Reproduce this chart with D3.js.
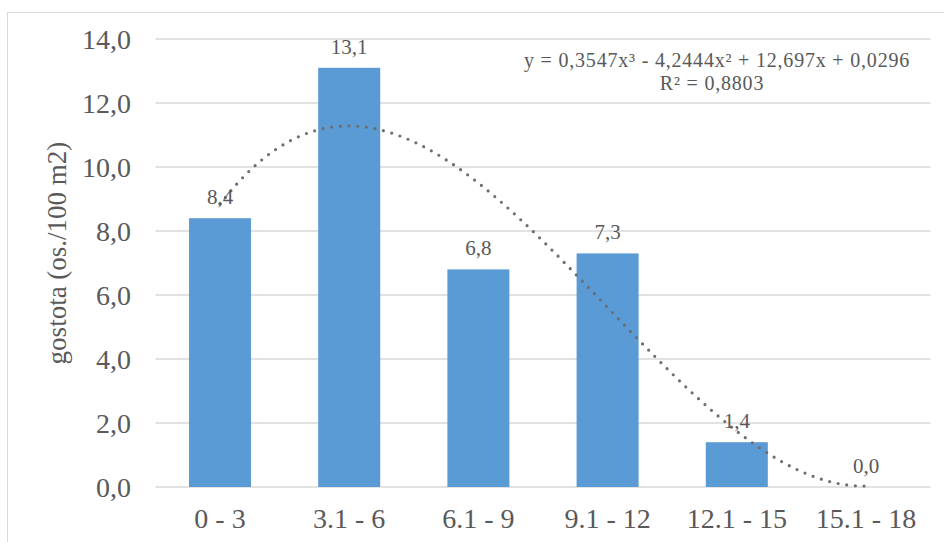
<!DOCTYPE html>
<html>
<head>
<meta charset="utf-8">
<script src="https://cdn.jsdelivr.net/npm/d3@7"></script>
<style>
  html, body { margin: 0; padding: 0; background: #fff; }
  svg { display: block; }
  text { font-family: "Liberation Serif", "Times New Roman", serif; fill: #595959; }
</style>
</head>
<body>
<script>
const categories = ["0 - 3", "3.1 - 6", "6.1 - 9", "9.1 - 12", "12.1 - 15", "15.1 - 18"];
const values = [8.4, 13.1, 6.8, 7.3, 1.4, 0.0];
const valueLabels = ["8,4", "13,1", "6,8", "7,3", "1,4", "0,0"];
const yTicks = [0, 2, 4, 6, 8, 10, 12, 14];
const yTickLabels = ["0,0", "2,0", "4,0", "6,0", "8,0", "10,0", "12,0", "14,0"];
const trendCoeffs = [0.3547, -4.2444, 12.697, 0.0296]; // x^3, x^2, x, const
const equationLine1 = "y = 0,3547x³ - 4,2444x² + 12,697x + 0,0296";
const equationLine2 = "R² = 0,8803";
const yTitle = "gostota (os./100 m2)";

const W = 944, H = 542;
const plot = { left: 155.4, right: 930.6, top: 39, bottom: 487 };

const svg = d3.select("body").append("svg").attr("width", W).attr("height", H);

// chart border
svg.append("rect").attr("x", 7.5).attr("y", 12.5).attr("width", W).attr("height", H)
  .attr("fill", "none").attr("stroke", "#d9d9d9").attr("stroke-width", 1);

const x = d3.scaleBand().domain(categories).range([plot.left, plot.right])
  .paddingInner(0.52).paddingOuter(0.26);
const y = d3.scaleLinear().domain([0, 14]).range([plot.bottom, plot.top]);

// gridlines
svg.append("g").selectAll("line").data(yTicks).join("line")
  .attr("x1", plot.left).attr("x2", plot.right)
  .attr("y1", d => y(d)).attr("y2", d => y(d))
  .attr("stroke", "#d9d9d9").attr("stroke-width", 1.5);

// y tick labels
const yAxis = d3.axisLeft(y).tickValues(yTicks).tickSize(0).tickPadding(0)
  .tickFormat((d, i) => yTickLabels[i]);
const gy = svg.append("g").attr("transform", `translate(131,0)`).call(yAxis);
gy.select(".domain").remove();
gy.selectAll("text").attr("font-size", 28).attr("font-family", "Liberation Serif")
  .attr("fill", "#595959").attr("dy", "0.34em");

// bars
svg.append("g").selectAll("rect").data(values).join("rect")
  .attr("x", (d, i) => x(categories[i]))
  .attr("width", x.bandwidth())
  .attr("y", d => y(d))
  .attr("height", d => y(0) - y(d))
  .attr("fill", "#5b9bd5");

// x axis labels
const xAxis = d3.axisBottom(x).tickSize(0).tickPadding(0);
const gx = svg.append("g").attr("transform", `translate(0,${plot.bottom})`).call(xAxis);
gx.select(".domain").remove();
gx.selectAll("text").attr("font-size", 28).attr("font-family", "Liberation Serif")
  .attr("fill", "#595959").attr("dy", null).attr("y", 41);

// trendline (polynomial fit, order 3) across category positions 1..6
const step = x.step();
const xPos = t => x(categories[0]) + x.bandwidth() / 2 + (t - 1) * step;
const poly = t => trendCoeffs[0] * t ** 3 + trendCoeffs[1] * t ** 2 + trendCoeffs[2] * t + trendCoeffs[3];
const ts = d3.range(1, 6.0001, 0.02);
svg.append("path")
  .attr("d", d3.line().x(t => xPos(t)).y(t => y(poly(t)))(ts))
  .attr("fill", "none").attr("stroke", "#6e6e6e").attr("stroke-width", 3.2)
  .attr("stroke-linecap", "round").attr("stroke-dasharray", "0 8.7");

// data labels
svg.append("g").selectAll("text").data(values).join("text")
  .attr("x", (d, i) => x(categories[i]) + x.bandwidth() / 2)
  .attr("y", d => y(d) - 14)
  .attr("text-anchor", "middle").attr("font-size", 21)
  .text((d, i) => valueLabels[i]);

// equation label (single text box, two lines)
const eq = svg.append("text").attr("text-anchor", "middle")
  .attr("font-size", 20).attr("letter-spacing", 0.8);
eq.append("tspan").attr("x", 717).attr("y", 67).text(equationLine1);
eq.append("tspan").attr("x", 712).attr("y", 90).text(equationLine2);

// y title
svg.append("text").attr("transform", "translate(66,253) rotate(-90)")
  .attr("text-anchor", "middle").attr("font-size", 27).text(yTitle);
</script>
</body>
</html>
